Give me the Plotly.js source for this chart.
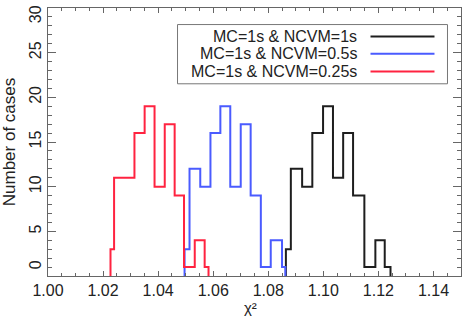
<!DOCTYPE html>
<html>
<head>
<meta charset="utf-8">
<script src="https://cdn.plot.ly/plotly-3.0.1.min.js"></script>
<style>
  html, body { margin: 0; padding: 0; background: #fff; }
  #chart { width: 464px; height: 316px; }
</style>
</head>
<body>
<div id="chart"></div>
<script>
// Series names and colours
const seriesNames = ["MC=1s & NCVM=1s", "MC=1s & NCVM=0.5s", "MC=1s & NCVM=0.25s"];
const seriesColors = ["#1e1e1e", "#4a5bff", "#ff2340"];

// Histogram bin edges (chi^2) and counts
const blackEdges  = [1.0864, 1.0882, 1.0923, 1.0960, 1.0999, 1.1035, 1.1072, 1.1108, 1.1149, 1.1189, 1.1223, 1.1244];
const blackCounts = [3, 12, 10, 16, 19, 11, 16, 9, 1, 4, 1];

const blueEdges  = [1.0496, 1.0514, 1.0553, 1.0590, 1.0626, 1.0662, 1.0700, 1.0736, 1.0773, 1.0809, 1.0850, 1.0862];
const blueCounts = [3, 12, 10, 16, 19, 10, 17, 9, 1, 4, 1];

const redEdges  = [1.0227, 1.0240, 1.0277, 1.0314, 1.0351, 1.0387, 1.0424, 1.0460, 1.0494, 1.0533, 1.0569, 1.0583];
const redCounts = [3, 11, 11, 16, 19, 10, 17, 9, 1, 4, 1];

// Axis ticks
const NB = "\u00a0";
const xTickVals = [1.00, 1.02, 1.04, 1.06, 1.08, 1.10, 1.12, 1.14];
const xTickText = ["1.00", "1.02", "1.04", "1.06", "1.08", "1.10", "1.12", "1.14"];
const yTickVals = [0, 5, 10, 15, 20, 25];
const yTickText = [NB.repeat(4) + "0", "5", "10", "15", "20", "25"];
const yTopVal = 30, yTopText = "30";
const xTitle = "χ²";
const yTitle = "Number of cases";

const FONT = "Liberation Sans, Arial, sans-serif";

function stepTrace(edges, counts, name, color) {
  return {
    type: "scatter",
    mode: "lines",
    name: name,
    x: [edges[0]].concat(edges),
    y: [0].concat(counts).concat([0]),
    line: { shape: "hv", color: color, width: 2 },
    showlegend: false,
    hoverinfo: "skip"
  };
}

const data = [
  stepTrace(blackEdges, blackCounts, seriesNames[0], seriesColors[0]),
  stepTrace(blueEdges, blueCounts, seriesNames[1], seriesColors[1]),
  stepTrace(redEdges, redCounts, seriesNames[2], seriesColors[2])
];

// Legend drawn as box + right-aligned text + line samples
const legRows = [0.894, 0.829, 0.763];
const shapes = [{
  type: "rect", xref: "paper", yref: "paper",
  x0: 0.3136, x1: 0.9673, y0: 0.7172, y1: 0.9382,
  line: { color: "#777", width: 1 }, fillcolor: "rgba(0,0,0,0)"
}];
const annotations = [];
seriesNames.forEach((n, i) => {
  annotations.push({
    xref: "paper", yref: "paper", x: 0.7542, y: legRows[i],
    xanchor: "right", yanchor: "middle", showarrow: false,
    text: n, font: { family: FONT, size: 16, color: "#222" }
  });
  shapes.push({
    type: "line", xref: "paper", yref: "paper",
    x0: 0.7809, x1: 0.9358, y0: legRows[i], y1: legRows[i],
    line: { color: seriesColors[i], width: 2 }
  });
});

// top y label (nudged inside the frame like the picture)
annotations.push({
  xref: "paper", yref: "y", x: -0.031, y: yTopVal, yshift: -6,
  xanchor: "center", yanchor: "middle", showarrow: false, textangle: -90,
  text: yTopText, font: { family: FONT, size: 16, color: "#222" }
});
// x axis title
annotations.push({
  xref: "paper", yref: "paper", x: 0.4915, y: -0.118,
  xanchor: "center", yanchor: "middle", showarrow: false,
  text: xTitle, font: { family: FONT, size: 15, color: "#222" }
});

const axisCommon = {
  showline: true, linecolor: "#666", linewidth: 1, mirror: "ticks",
  ticks: "inside", tickcolor: "#666", tickwidth: 1,
  showgrid: false, zeroline: false,
  ticklabeloverflow: "allow",
  tickfont: { family: FONT, size: 16, color: "#222" }
};

const layout = {
  width: 464, height: 316,
  margin: { l: 48, r: 3, t: 8, b: 40, pad: 0 },
  paper_bgcolor: "#fff", plot_bgcolor: "#fff",
  font: { family: FONT, size: 16, color: "#222" },
  xaxis: Object.assign({}, axisCommon, {
    range: [1.0, 1.15],
    tickmode: "array", tickvals: xTickVals, ticktext: xTickText,
    ticklen: 5,
    minor: { dtick: 0.005, tick0: 1.0, ticks: "inside", ticklen: 3, tickcolor: "#666", showgrid: false }
  }),
  yaxis: Object.assign({}, axisCommon, {
    range: [0, 30],
    tickmode: "array", tickvals: yTickVals, ticktext: yTickText,
    tickangle: -90,
    ticklen: 8,
    minor: { dtick: 1, tick0: 0, ticks: "inside", ticklen: 4, tickcolor: "#666", showgrid: false },
    title: { text: yTitle, font: { size: 17, color: "#222" }, standoff: 6 }
  }),
  shapes: shapes,
  annotations: annotations,
  showlegend: false
};

Plotly.newPlot("chart", data, layout, { staticPlot: true, displayModeBar: false });
</script>
</body>
</html>
